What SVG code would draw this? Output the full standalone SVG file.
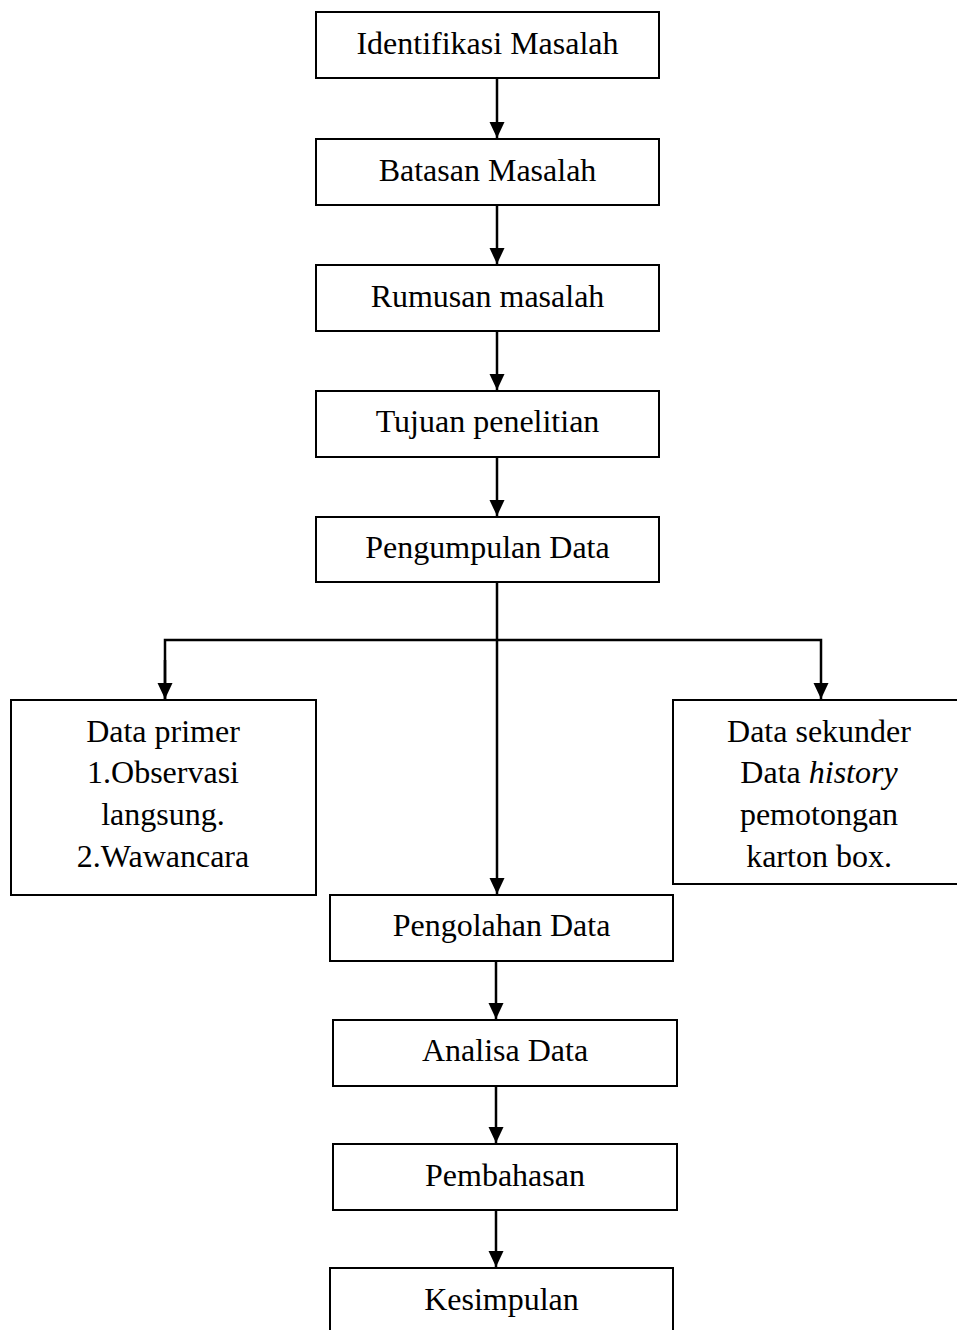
<svg xmlns="http://www.w3.org/2000/svg" width="957" height="1330" viewBox="0 0 957 1330">
<style>
.box{fill:#fff;stroke:#000;stroke-width:2}
.t{font-family:"Liberation Serif","Times New Roman",serif;font-size:32px;fill:#000;text-anchor:middle}
.c{fill:none;stroke:#000;stroke-width:2.5}
</style>
<defs>
<marker id="ah" markerUnits="userSpaceOnUse" markerWidth="16" markerHeight="16" refX="16" refY="8" orient="auto">
<path d="M0,0.5 L16,8 L0,15.5 z" fill="#000"/>
</marker>
</defs>
<rect width="957" height="1330" fill="#fff"/>
<g id="connectors">
<line class="c" x1="497" y1="79" x2="497" y2="138" marker-end="url(#ah)"/>
<line class="c" x1="497" y1="205" x2="497" y2="264" marker-end="url(#ah)"/>
<line class="c" x1="497" y1="331" x2="497" y2="390" marker-end="url(#ah)"/>
<line class="c" x1="497" y1="457" x2="497" y2="516" marker-end="url(#ah)"/>
<line class="c" x1="497" y1="582" x2="497" y2="894" marker-end="url(#ah)"/>
<polyline class="c" points="165,699 165,640 821,640 821,699" marker-end="url(#ah)"/>
<line class="c" x1="165" y1="660" x2="165" y2="699" marker-end="url(#ah)"/>
<line class="c" x1="496" y1="961" x2="496" y2="1019" marker-end="url(#ah)"/>
<line class="c" x1="496" y1="1086" x2="496" y2="1143" marker-end="url(#ah)"/>
<line class="c" x1="496" y1="1210" x2="496" y2="1267" marker-end="url(#ah)"/>
</g>
<g id="n1"><rect class="box" x="316" y="12" width="343" height="66"/><text class="t" x="487.5" y="54">Identifikasi Masalah</text></g>
<g id="n2"><rect class="box" x="316" y="139" width="343" height="66"/><text class="t" x="487.5" y="181">Batasan Masalah</text></g>
<g id="n3"><rect class="box" x="316" y="265" width="343" height="66"/><text class="t" x="487.5" y="307">Rumusan masalah</text></g>
<g id="n4"><rect class="box" x="316" y="391" width="343" height="66"/><text class="t" x="487.5" y="432">Tujuan penelitian</text></g>
<g id="n5"><rect class="box" x="316" y="517" width="343" height="65"/><text class="t" x="487.5" y="558">Pengumpulan Data</text></g>
<g id="n6"><rect class="box" x="11" y="700" width="305" height="195"/>
<text class="t" x="163" y="742">Data primer</text>
<text class="t" x="163" y="783">1.Observasi</text>
<text class="t" x="163" y="825">langsung.</text>
<text class="t" x="163" y="867">2.Wawancara</text></g>
<g id="n7"><rect class="box" x="673" y="700" width="290" height="184"/>
<text class="t" x="819" y="742">Data sekunder</text>
<text class="t" x="819" y="783">Data <tspan font-style="italic">history</tspan></text>
<text class="t" x="819" y="825">pemotongan</text>
<text class="t" x="819" y="867">karton box.</text></g>
<g id="n8"><rect class="box" x="330" y="895" width="343" height="66"/><text class="t" x="501.5" y="936">Pengolahan Data</text></g>
<g id="n9"><rect class="box" x="333" y="1020" width="344" height="66"/><text class="t" x="505" y="1061">Analisa Data</text></g>
<g id="n10"><rect class="box" x="333" y="1144" width="344" height="66"/><text class="t" x="505" y="1186">Pembahasan</text></g>
<g id="n11"><rect class="box" x="330" y="1268" width="343" height="80"/><text class="t" x="501.5" y="1310">Kesimpulan</text></g>
</svg>
